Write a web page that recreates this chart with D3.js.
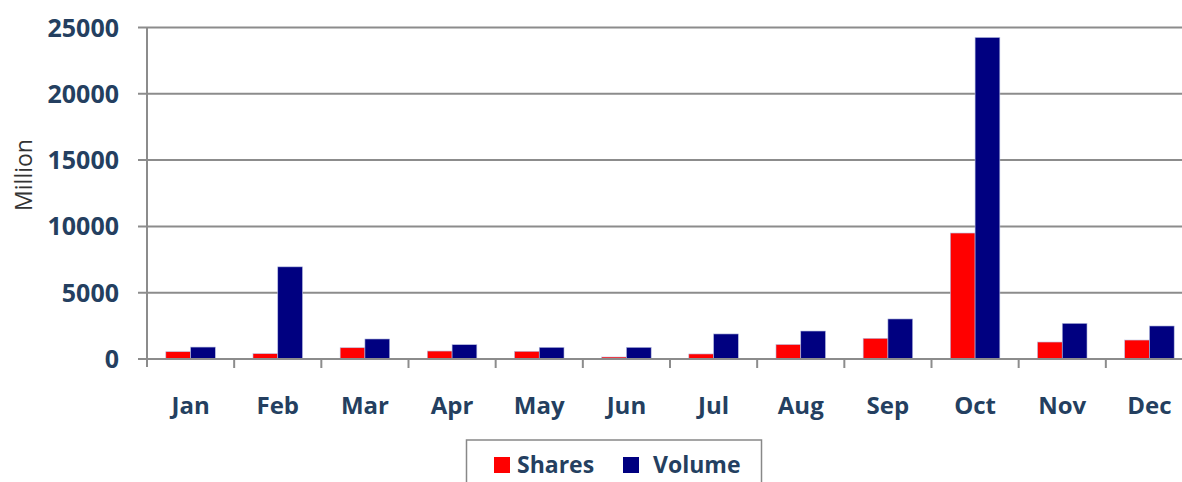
<!DOCTYPE html>
<html>
<head>
<meta charset="utf-8">
<script src="https://cdn.jsdelivr.net/npm/d3@7"></script>
<style>
  body { margin: 0; background: #fff; }
  svg { display: block; }
</style>
</head>
<body>
<div id="chart"></div>
<script>
var months = ["Jan", "Feb", "Mar", "Apr", "May", "Jun", "Jul", "Aug", "Sep", "Oct", "Nov", "Dec"];
var shares = [550, 400, 850, 600, 580, 150, 380, 1090, 1560, 9500, 1280, 1430];
var volume = [900, 6950, 1510, 1080, 880, 880, 1890, 2110, 3020, 24250, 2690, 2490];
var seriesNames = ["Shares", "Volume"];
var seriesColors = ["#ff0000", "#000080"];
var yTicks = [0, 5000, 10000, 15000, 20000, 25000];

var w = 1182, h = 482;
var textColor = "#243f60";
var gridColor = "#8c8c8c";

var svg = d3.select("#chart")
    .append("svg")
    .attr("width", w)
    .attr("height", h);

var x0 = d3.scaleBand()
    .domain(months)
    .range([147, 1193]);

var x1 = d3.scaleBand()
    .domain(seriesNames)
    .range([0, x0.bandwidth()])
    .paddingOuter(0.76);

var y = d3.scaleLinear()
    .domain([0, 25000])
    .range([359, 27.5]);

// gridlines + y ticks
svg.append("g")
    .selectAll("line")
    .data(yTicks)
    .enter()
    .append("line")
    .attr("x1", 138)
    .attr("x2", w)
    .attr("y1", function(d) { return y(d); })
    .attr("y2", function(d) { return y(d); })
    .attr("stroke", gridColor)
    .attr("stroke-width", 2);

svg.append("g")
    .selectAll("text")
    .data(yTicks)
    .enter()
    .append("text")
    .text(function(d) { return d; })
    .attr("x", 119)
    .attr("y", function(d) { return y(d); })
    .attr("dy", "0.36em")
    .attr("text-anchor", "end")
    .attr("font-family", "Open Sans")
    .attr("font-weight", "bold")
    .attr("font-size", "25px")
    .attr("fill", textColor);

// bars
var rows = months.map(function(m, i) {
    return { month: m, values: [shares[i], volume[i]] };
});

var groups = svg.append("g")
    .selectAll("g")
    .data(rows)
    .enter()
    .append("g")
    .attr("transform", function(d) { return "translate(" + x0(d.month) + ",0)"; });

groups.selectAll("rect")
    .data(function(d) {
        return d.values.map(function(v, i) { return { name: seriesNames[i], value: v, color: seriesColors[i] }; });
    })
    .enter()
    .append("rect")
    .attr("x", function(d) { return x1(d.name); })
    .attr("width", x1.bandwidth())
    .attr("y", function(d) { return y(d.value); })
    .attr("height", function(d) { return y(0) - y(d.value); })
    .attr("fill", function(d) { return d.color; })
    .attr("stroke", "#b8bfe0")
    .attr("stroke-width", 0.6);

// axes lines
svg.append("line")
    .attr("x1", 147).attr("x2", 147)
    .attr("y1", y(25000)).attr("y2", 367)
    .attr("stroke", gridColor)
    .attr("stroke-width", 2);

svg.append("line")
    .attr("x1", 138).attr("x2", w)
    .attr("y1", y(0)).attr("y2", y(0))
    .attr("stroke", gridColor)
    .attr("stroke-width", 2);

svg.append("g")
    .selectAll("line")
    .data(months.slice(1))
    .enter()
    .append("line")
    .attr("x1", function(d) { return x0(d); })
    .attr("x2", function(d) { return x0(d); })
    .attr("y1", y(0))
    .attr("y2", 368)
    .attr("stroke", gridColor)
    .attr("stroke-width", 2);

// month labels
svg.append("g")
    .selectAll("text")
    .data(months)
    .enter()
    .append("text")
    .text(function(d) { return d; })
    .attr("x", function(d) { return x0(d) + x0.bandwidth() / 2; })
    .attr("y", 414)
    .attr("text-anchor", "middle")
    .attr("font-family", "Open Sans")
    .attr("font-weight", "bold")
    .attr("font-size", "24px")
    .attr("fill", textColor);

// y title
svg.append("text")
    .text("Million")
    .attr("transform", "translate(32,175) rotate(-90)")
    .attr("text-anchor", "middle")
    .attr("font-family", "Open Sans")
    .attr("font-size", "23px")
    .attr("fill", "#333");

// legend
var legend = svg.append("g");

legend.append("rect")
    .attr("x", 466.5)
    .attr("y", 440)
    .attr("width", 295)
    .attr("height", 60)
    .attr("fill", "#fff")
    .attr("stroke", "#888")
    .attr("stroke-width", 1.5);

var legendX = [494, 623];
var items = legend.selectAll("g.item")
    .data(seriesNames)
    .enter()
    .append("g")
    .attr("class", "item")
    .attr("transform", function(d, i) { return "translate(" + legendX[i] + ",457)"; });

items.append("rect")
    .attr("width", 16)
    .attr("height", 16)
    .attr("fill", function(d, i) { return seriesColors[i]; });

items.append("text")
    .text(function(d) { return d; })
    .attr("x", function(d, i) { return i == 0 ? 23 : 30; })
    .attr("y", 16)
    .attr("font-family", "Open Sans")
    .attr("font-weight", "bold")
    .attr("font-size", "23px")
    .attr("fill", textColor);
</script>
</body>
</html>
